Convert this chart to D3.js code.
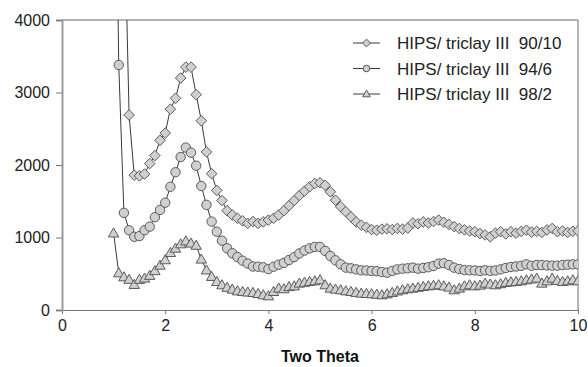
<!DOCTYPE html>
<html>
<head>
<meta charset="utf-8">
<script src="https://cdn.jsdelivr.net/npm/d3@7"></script>
<style>
	body { margin: 0; background: #fff; }
	svg { display: block; font-family: "Liberation Sans", Arial, sans-serif; }
</style>
</head>
<body>
<script>
// two theta grid, 1.0 .. 10.0 step 0.1
var theta = d3.range(10, 101).map(function(d) { return d / 10; });

// HIPS/ triclay III 90/10 (diamonds) - first two points not recorded
var s9010 = [null, null, 5800, 2690, 1860, 1850, 1875, 2020, 2130, 2340,
	2440, 2770, 2920, 3200, 3350, 3350, 2970, 2610, 2180, 1880,
	1650, 1510, 1370, 1310, 1265, 1230, 1195, 1220, 1195, 1215,
	1240, 1265, 1310, 1370, 1440, 1510, 1580, 1640, 1700, 1745,
	1755, 1720, 1630, 1515, 1425, 1355, 1285, 1215, 1170, 1140,
	1110, 1100, 1115, 1120, 1110, 1125, 1115, 1130, 1200, 1190,
	1215, 1200, 1220, 1240, 1210, 1180, 1150, 1125, 1105, 1090,
	1080, 1055, 1035, 1010, 1060, 1080, 1050, 1080, 1060, 1085,
	1100, 1075, 1085, 1070, 1105, 1125, 1080, 1090, 1070, 1085,
	1090];

// HIPS/ triclay III 94/6 (circles)
var s946 = [8500, 3380, 1340, 1100, 1010, 1020, 1100, 1150, 1280, 1380,
	1480, 1700, 1900, 2110, 2240, 2170, 1990, 1710, 1450, 1220,
	1080, 956, 851, 782, 730, 680, 640, 600, 597, 589,
	565, 597, 625, 650, 690, 730, 780, 820, 850, 870,
	870, 815, 745, 685, 630, 585, 575, 560, 547, 545,
	538, 535, 524, 515, 540, 560, 570, 575, 584, 570,
	580, 590, 607, 640, 645, 620, 584, 565, 550, 547,
	545, 538, 547, 540, 545, 561, 580, 593, 600, 610,
	630, 610, 620, 620, 615, 612, 612, 620, 625, 630,
	630];

// HIPS/ triclay III 98/2 (triangles)
var s982 = [1060, 510, 455, 420, 350, 420, 437, 475, 540, 615,
	690, 790, 850, 910, 950, 920, 890, 700, 550, 460,
	390, 345, 310, 285, 262, 253, 245, 239, 225, 207,
	193, 253, 299, 290, 320, 330, 368, 380, 391, 400,
	414, 345, 299, 285, 276, 262, 253, 240, 230, 225,
	221, 215, 207, 220, 240, 260, 276, 290, 299, 310,
	322, 331, 338, 345, 330, 313, 276, 299, 330, 345,
	331, 340, 368, 355, 345, 360, 377, 385, 391, 400,
	414, 425, 437, 368, 400, 437, 405, 391, 400, 414,
	400];

var seriesNames = ["HIPS/ triclay III  90/10", "HIPS/ triclay III  94/6", "HIPS/ triclay III  98/2"];
var seriesShapes = ["diamond", "circle", "triangle"];
var seriesValues = [s9010, s946, s982];

var xTicks = [0, 2, 4, 6, 8, 10];
var yTicks = [0, 1000, 2000, 3000, 4000];

var width = 588, height = 367;
var plotLeft = 62, plotRight = 578, plotTop = 20, plotBottom = 310;

var svg = d3.select("body").append("svg")
	.attr("width", width)
	.attr("height", height);

var x = d3.scaleLinear().domain([0, 10]).range([plotLeft, plotRight]);
var y = d3.scaleLinear().domain([0, 4000]).range([plotBottom, plotTop]);

function shapePath(shape, r) {
	if (shape == "diamond")
		return "M0," + (-r) + "L" + r + ",0L0," + r + "L" + (-r) + ",0Z";
	// triangle pointing up
	return "M0," + (-r) + "L" + (r * 0.98) + "," + (r * 0.72) + "L" + (-r * 0.98) + "," + (r * 0.72) + "Z";
}

function addMarker(g, shape, cx, cy, r) {
	if (shape == "circle") {
		g.append("circle")
			.attr("cx", cx).attr("cy", cy).attr("r", r)
				.style("fill", "#d0d0d0")
				.style("stroke", "#5a5a5a")
				.style("stroke-width", 1);
	} else {
		g.append("path")
			.attr("transform", "translate(" + cx + "," + cy + ")")
			.attr("d", shapePath(shape, r + 0.6))
				.style("fill", "#d0d0d0")
				.style("stroke", "#5a5a5a")
				.style("stroke-width", 1);
	}
}

svg.append("clipPath")
	.attr("id", "plotclip")
	.append("rect")
	.attr("x", plotLeft).attr("y", plotTop)
	.attr("width", plotRight - plotLeft).attr("height", plotBottom - plotTop);

// frame (top + right)
svg.append("path")
	.attr("d", "M" + plotLeft + "," + plotTop + "H" + plotRight + "V" + plotBottom)
		.style("fill", "none")
		.style("stroke", "#6b6b6b")
		.style("stroke-width", 1);

// bottom axis
var xAxis = svg.append("g")
	.attr("transform", "translate(0," + plotBottom + ")")
	.call(d3.axisBottom(x).tickValues(xTicks).tickSize(4).tickPadding(6).tickFormat(d3.format("d")));
xAxis.select(".domain").style("stroke", "#777");
xAxis.selectAll(".tick line").style("stroke", "#777");
xAxis.selectAll("text")
	.style("font-size", "16px")
	.style("fill", "#222")
	.style("font-family", "'Liberation Sans', Arial, sans-serif");

// left axis
var yAxis = svg.append("g")
	.attr("transform", "translate(" + plotLeft + ",0)")
	.call(d3.axisLeft(y).tickValues(yTicks).tickSize(6).tickPadding(6).tickFormat(d3.format("d")));
yAxis.select(".domain").style("stroke", "#9a9a9a").style("stroke-width", 2);
yAxis.selectAll(".tick line").style("stroke", "#777");
yAxis.selectAll("text")
	.style("font-size", "16px")
	.style("fill", "#222")
	.style("font-family", "'Liberation Sans', Arial, sans-serif");

svg.append("text")
	.attr("x", (plotLeft + plotRight) / 2)
	.attr("y", 362)
	.attr("text-anchor", "middle")
		.style("font-size", "16px")
		.style("font-weight", "bold")
		.style("fill", "#111")
	.text("Two Theta");

// series
var line = d3.line()
	.defined(function(d) { return d[1] != null; })
	.x(function(d) { return x(d[0]); })
	.y(function(d) { return y(d[1]); });

var plot = svg.append("g").attr("clip-path", "url(#plotclip)");

seriesValues.forEach(function(vals, i) {
	var pts = theta.map(function(t, j) { return [t, vals[j]]; });
	plot.append("path")
		.datum(pts)
		.attr("d", line)
			.style("fill", "none")
			.style("stroke", "#3a3a3a")
			.style("stroke-width", 1);
	var mg = plot.append("g");
	pts.forEach(function(p) {
		if (p[1] == null || p[1] > 4000) return;
		addMarker(mg, seriesShapes[i], x(p[0]), y(p[1]), 4.7);
	});
});

// legend
var legend = svg.append("g");
seriesNames.forEach(function(name, i) {
	var ly = 43 + i * 25.5;
	legend.append("line")
		.attr("x1", 353).attr("x2", 380)
		.attr("y1", ly).attr("y2", ly)
			.style("stroke", "#3a3a3a")
			.style("stroke-width", 1);
	addMarker(legend, seriesShapes[i], 366.5, ly, 3.3);
	legend.append("text")
		.attr("x", 397)
		.attr("y", ly + 6)
			.style("font-size", "17px")
			.style("fill", "#222")
			.style("white-space", "pre")
		.text(name);
});
</script>
</body>
</html>
